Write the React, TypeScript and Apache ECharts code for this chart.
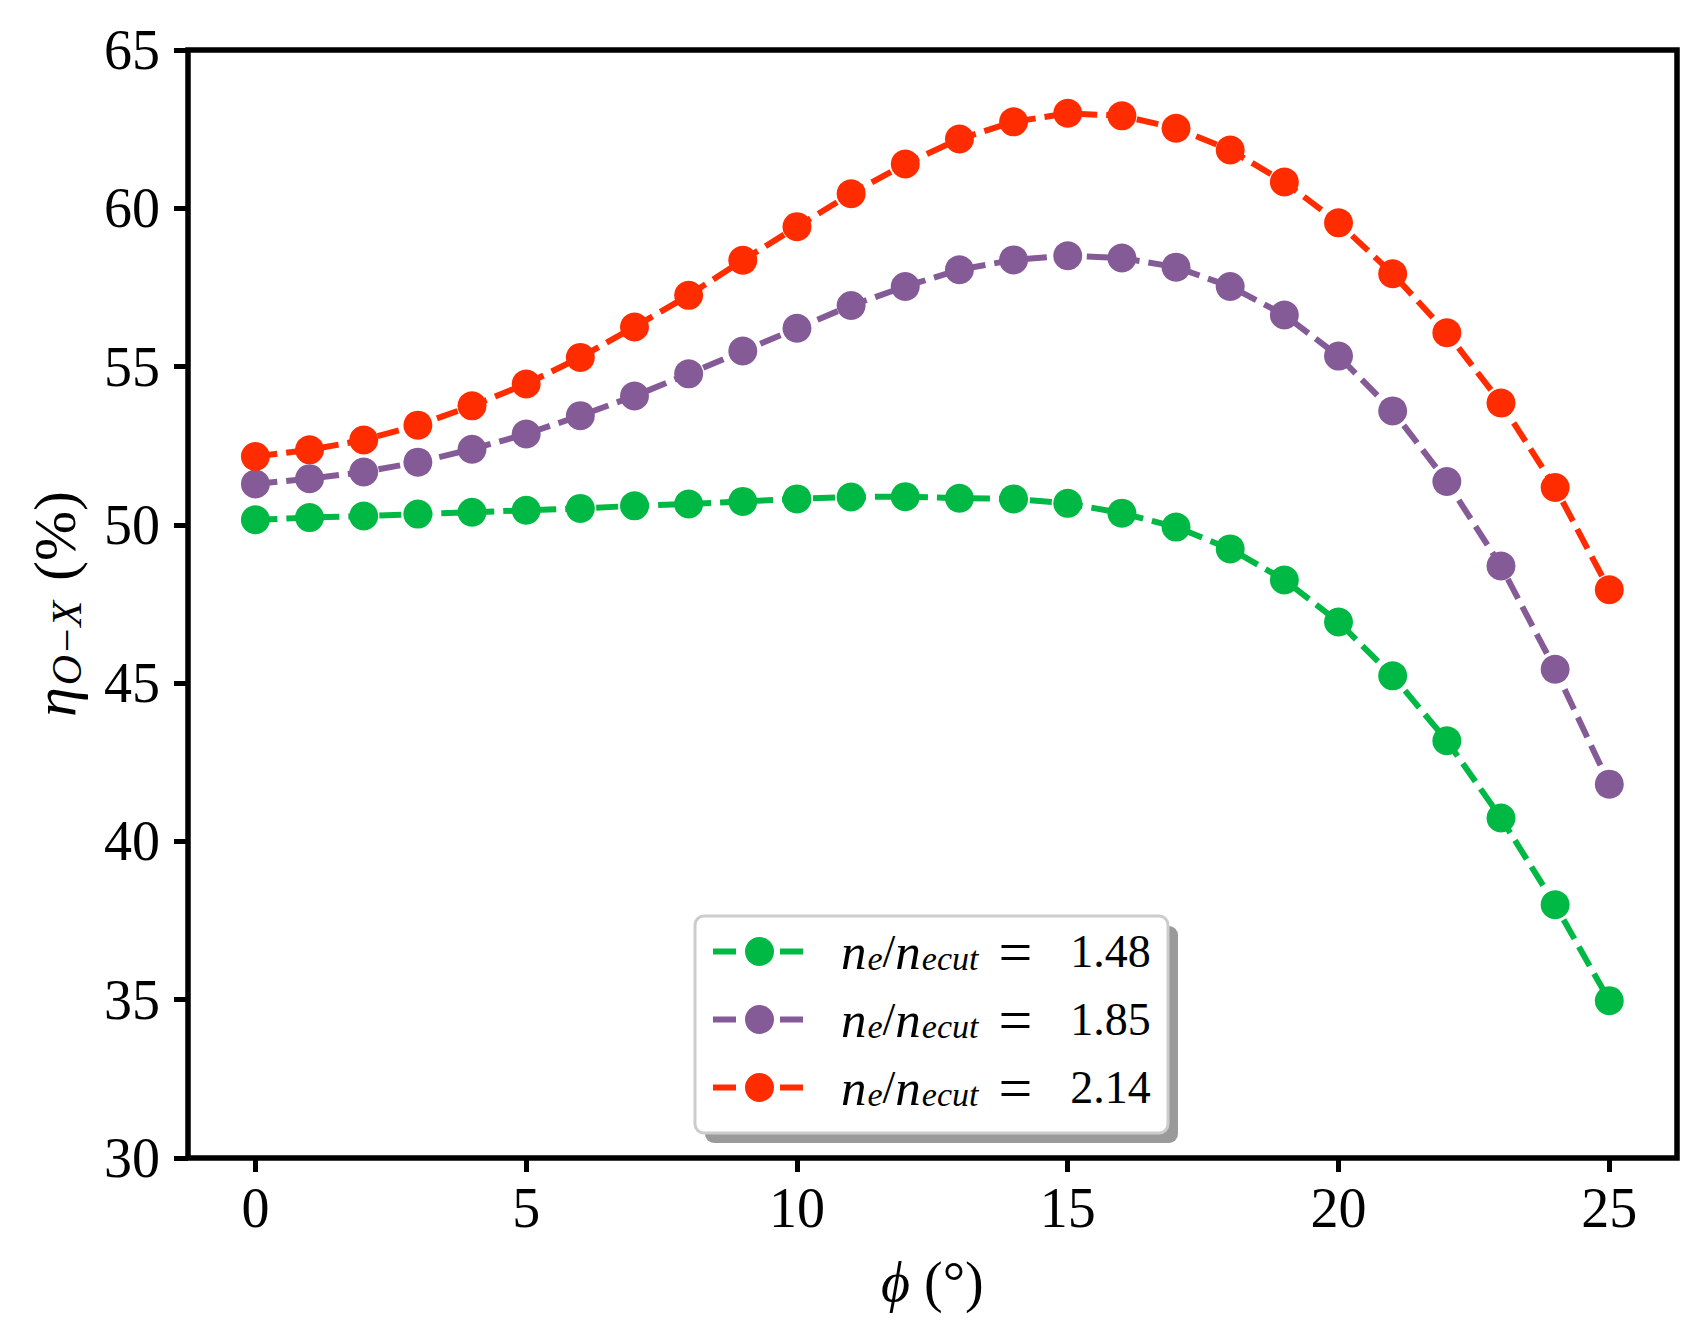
import React, { useEffect, useRef } from "react";
import * as echarts from "echarts";

const phi = [0, 1, 2, 3, 4, 5, 6, 7, 8, 9, 10, 11, 12, 13, 14, 15, 16, 17, 18, 19, 20, 21, 22, 23, 24, 25];
const green148 = [50.16, 50.23, 50.28, 50.34, 50.4, 50.46, 50.52, 50.6, 50.66, 50.74, 50.82, 50.88, 50.89, 50.84, 50.82, 50.68, 50.37, 49.93, 49.24, 48.26, 46.93, 45.23, 43.18, 40.74, 38.0, 34.97];
const purple185 = [51.29, 51.46, 51.67, 51.98, 52.39, 52.87, 53.45, 54.07, 54.77, 55.49, 56.21, 56.93, 57.53, 58.06, 58.37, 58.5, 58.43, 58.14, 57.53, 56.63, 55.33, 53.6, 51.37, 48.7, 45.44, 41.81];
const red214 = [52.16, 52.37, 52.68, 53.15, 53.76, 54.45, 55.29, 56.25, 57.25, 58.36, 59.42, 60.46, 61.4, 62.19, 62.73, 63.0, 62.92, 62.53, 61.84, 60.83, 59.54, 57.93, 56.07, 53.85, 51.18, 47.95];
const ratios = ["1.48", "1.85", "2.14"];
const colors = ["#00B945", "#845B97", "#FF2C00"];

const FONT = "'Liberation Serif', 'DejaVu Serif', serif";
const ICON =
  "path://M0,11.5h23v6h-23z M32,14.5a14.5,14.5 0 1,0 29,0a14.5,14.5 0 1,0 -29,0z M67,11.5h23v6h-23z";

const legendText = {
  color: "#000",
  fontFamily: FONT,
  fontSize: 46,
  lineHeight: 48,
  rich: {
    n0: { fontFamily: FONT, fontStyle: "italic", fontSize: 51, lineHeight: 48, padding: [0, 0, 0, 33], color: "#000" },
    n: { fontFamily: FONT, fontStyle: "italic", fontSize: 51, lineHeight: 48, color: "#000" },
    s: {
      fontFamily: FONT,
      fontStyle: "italic",
      fontSize: 34,
      lineHeight: 34,
      padding: [16, 0, 0, 1],
      verticalAlign: "bottom",
      color: "#000",
    },
    eq: { fontFamily: FONT, fontSize: 60, lineHeight: 48, padding: [0, 38, 0, 20], color: "#000" },
    t: { fontFamily: FONT, fontSize: 46, lineHeight: 48, color: "#000" },
  },
};

export default function App() {
  const ref = useRef<HTMLDivElement>(null);
  useEffect(() => {
    document.body.style.margin = "0";
    const chart = echarts.init(ref.current!, null, { renderer: "svg" });
    const seriesVals = [green148, purple185, red214];
    const names = ratios.map((r) => "ne/necut = " + r);
    const rowTops = [921.5, 989.5, 1057.5];
    const option: any = {
      animation: false,
      backgroundColor: "#ffffff",
      grid: {
        left: 255.4,
        right: 96.7,
        top: 50,
        bottom: 185,
        show: false,
      },
      xAxis: {
        type: "value",
        min: 0,
        max: 25,
        interval: 5,
        axisLine: { show: false, onZero: false },
        splitLine: { show: false },
        axisTick: { show: true, length: 14, lineStyle: { color: "#000", width: 5 } },
        axisLabel: {
          color: "#000",
          fontFamily: FONT,
          fontSize: 56,
          margin: 22,
        },
        name: "{it|ϕ} (°)",
        nameLocation: "middle",
        nameGap: 96,
        nameTextStyle: {
          color: "#000",
          fontFamily: FONT,
          fontSize: 56,
          rich: { it: { fontFamily: FONT, fontStyle: "italic", fontSize: 56, color: "#000" } },
        },
      },
      yAxis: {
        type: "value",
        min: 30,
        max: 65,
        interval: 5,
        offset: 67.4,
        axisLine: { show: false, onZero: false },
        splitLine: { show: false },
        axisTick: { show: true, length: 14, lineStyle: { color: "#000", width: 5 } },
        axisLabel: { color: "#000", fontFamily: FONT, fontSize: 56, margin: 28 },
        name: "{it|η}{sub|O−X}{r|(%)}",
        nameLocation: "middle",
        nameRotate: 90,
        nameGap: 100,
        nameTextStyle: {
          color: "#000",
          fontFamily: FONT,
          fontSize: 58,
          rich: {
            it: { fontFamily: FONT, fontStyle: "italic", fontSize: 60, lineHeight: 66, color: "#000" },
            sub: {
              fontFamily: FONT,
              fontStyle: "italic",
              fontSize: 42,
              lineHeight: 42,
              padding: [20, 0, 0, 2],
              verticalAlign: "bottom",
              color: "#000",
            },
            r: { fontFamily: FONT, fontSize: 60, lineHeight: 66, padding: [0, 0, 0, 20], color: "#000" },
          },
        },
      },
      legend: names.map((nm, i) => ({
        show: true,
        orient: "vertical",
        left: 713,
        top: rowTops[i],
        itemWidth: 90,
        itemHeight: 29,
        padding: 0,
        icon: ICON,
        backgroundColor: "transparent",
        itemStyle: { borderWidth: 0 },
        data: [nm],
        formatter: (name: string) => {
          const r = name.split("= ")[1];
          return "{n0|n}{s|e}{t|/}{n|n}{s|ecut}{eq|=}{t|" + r + "}";
        },
        textStyle: legendText,
      })),
      graphic: [
        {
          type: "rect",
          z: 1,
          shape: { x: 705, y: 926, width: 473, height: 217, r: 9 },
          style: { fill: "#9a9a9a" },
          silent: true,
        },
        {
          type: "rect",
          z: 2,
          shape: { x: 695, y: 916, width: 473, height: 217, r: 9 },
          style: { fill: "#ffffff", stroke: "#cccccc", lineWidth: 3 },
          silent: true,
        },
        {
          type: "rect",
          z: 10,
          shape: { x: 188, y: 50, width: 1489, height: 1108 },
          style: { fill: "none", stroke: "#000", lineWidth: 5.5 },
          silent: true,
        },
      ],
      series: seriesVals.map((vals, i) => ({
        type: "line",
        name: names[i],
        data: phi.map((x, j) => [x, vals[j]]),
        symbol: "circle",
        symbolSize: 29,
        clip: false,
        z: 4 + i,
        itemStyle: { color: colors[i] },
        lineStyle: { color: colors[i], width: 6, type: [22, 9] },
      })),
    };
    chart.setOption(option);
    return () => chart.dispose();
  }, []);
  return <div ref={ref} style={{ width: 1706, height: 1343 }} />;
}
